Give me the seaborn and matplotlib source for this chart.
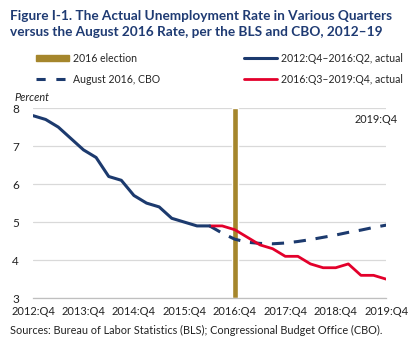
import pandas as pd
import matplotlib.pyplot as plt
import seaborn as sns
from matplotlib.lines import Line2D
from matplotlib.patches import Patch

# quarters from 2012:Q4 to 2019:Q4
quarters = [f"{y}:Q{q}" for y in range(2012, 2020) for q in range(1, 5)][3:]
tick_labels = [f"{y}:Q4" for y in range(2012, 2020)]

actual_early = [7.8, 7.7, 7.5, 7.2, 6.9, 6.7, 6.2, 6.1, 5.7, 5.5, 5.4, 5.1, 5.0, 4.9, 4.9]
actual_late = [4.9, 4.9, 4.8, 4.6, 4.4, 4.3, 4.1, 4.1, 3.9, 3.8, 3.8, 3.9, 3.6, 3.6, 3.5]
cbo_aug2016 = [4.9, 4.71, 4.55, 4.47, 4.44, 4.43, 4.45, 4.49, 4.54, 4.6, 4.66, 4.73, 4.79, 4.86, 4.92]
election_quarter = "2016:Q4"

navy = "#1c3a6e"
red = "#e3002b"
gold = "#a5862c"

early_q = quarters[:15]
late_q = quarters[14:]
df = pd.DataFrame({
    "x": [quarters.index(q) for q in early_q] + [quarters.index(q) for q in late_q] * 2,
    "rate": actual_early + actual_late + cbo_aug2016,
    "series": ["early"] * 15 + ["late"] * 15 + ["cbo"] * 15,
})

sns.set_style("white")
plt.rcParams["font.family"] = ["Lato", "DejaVu Sans"]

fig = plt.figure(figsize=(4.13, 3.52), dpi=100)
ax = fig.add_axes([0.08, 0.153, 0.855, 0.54])

ax.bar(quarters.index(election_quarter), 5, bottom=3, width=0.44, color=gold, zorder=2)
sns.lineplot(data=df[df.series == "cbo"], x="x", y="rate", color=navy, lw=2.2, ax=ax, zorder=3)
sns.lineplot(data=df[df.series == "late"], x="x", y="rate", color=red, lw=2, ax=ax, zorder=4)
sns.lineplot(data=df[df.series == "early"], x="x", y="rate", color=navy, lw=2.2, ax=ax, zorder=5)
ax.lines[0].set_dashes((4, 3.2))

ax.set_xlim(0, 28)
ax.set_ylim(3, 8)
ax.set_xticks([quarters.index(t) for t in tick_labels])
ax.set_xticklabels(tick_labels, fontsize=8, color="#222222")
ax.set_yticks([3, 4, 5, 6, 7, 8])
ax.set_yticklabels(["3", "4", "5", "6", "7", "8"], fontsize=8.5, color="#222222")
ax.set_xlabel("")
ax.set_ylabel("")
ax.grid(axis="y", color="#d9d9d9", lw=0.9, zorder=0)
for s in ["top", "right", "left"]:
    ax.spines[s].set_visible(False)
ax.spines["bottom"].set_color("#bfbfbf")
ax.spines["bottom"].set_linewidth(0.9)
ax.tick_params(axis="x", direction="out", length=3, color="#bfbfbf", pad=3)
ax.tick_params(axis="y", length=0, pad=10)

handles = [
    Patch(color=gold),
    Line2D([], [], color=navy, lw=2.2, dashes=(3, 3.5)),
    Line2D([], [], color=navy, lw=2.2),
    Line2D([], [], color=red, lw=2),
]
labels = ["2016 election", "August 2016, CBO", "2012:Q4\u20132016:Q2, actual", "2016:Q3\u20132019:Q4, actual"]
fig.legend(handles, labels, ncol=2, loc="upper left", bbox_to_anchor=(0.064, 0.877),
           frameon=False, fontsize=7.6, handlelength=3.1, handleheight=0.55,
           columnspacing=8.0, labelspacing=0.95, handletextpad=0.4)

fig.text(0.024, 0.955, "Figure I-1. The Actual Unemployment Rate in Various Quarters",
         fontsize=9.8, fontweight="bold", color="#1f3b73", va="center")
fig.text(0.024, 0.908, "versus the August 2016 Rate, per the BLS and CBO, 2012\u201319",
         fontsize=9.8, fontweight="bold", color="#1f3b73", va="center")
fig.text(0.036, 0.724, "Percent", fontsize=7.8, style="italic", color="#222222", va="center")
fig.text(0.91, 0.661, "2019:Q4", fontsize=7.8, color="#222222", ha="center", va="center")
fig.text(0.024, 0.062, "Sources: Bureau of Labor Statistics (BLS); Congressional Budget Office (CBO).",
         fontsize=7.8, color="#222222", va="center")

fig.savefig("out.png", dpi=100)
